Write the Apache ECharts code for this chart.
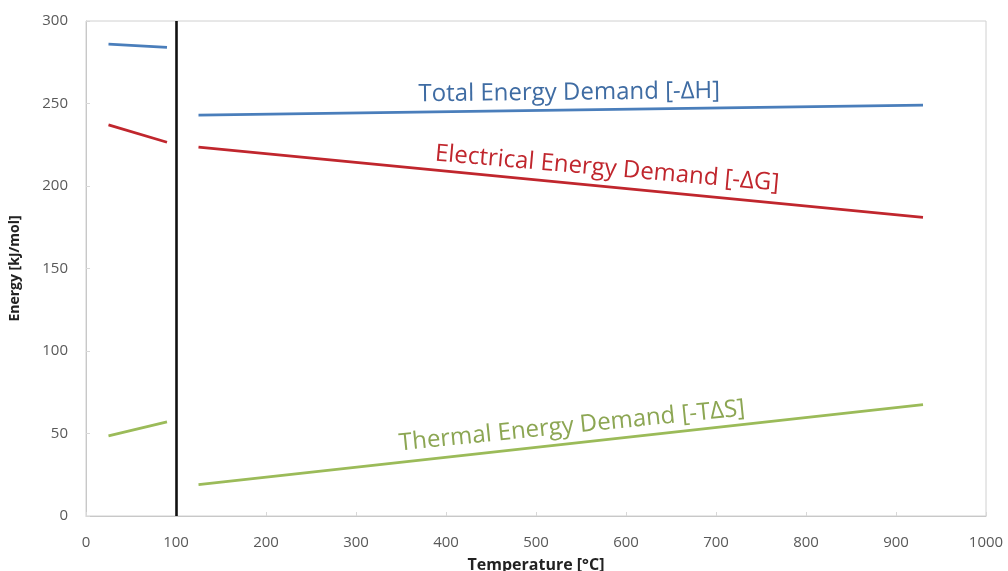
<!DOCTYPE html>
<html>
<head>
<meta charset="utf-8">
<script src="https://cdn.jsdelivr.net/npm/echarts@6/dist/echarts.min.js"></script>
<style>html,body{margin:0;padding:0;background:#fff}#c{width:1008px;height:571px}</style>
</head>
<body>
<div id="c"></div>
<script>
const tempLiquid = [25, 90];
const tempSteam = [125, 930];
const totalLiquid = [286, 284];
const totalSteam = [243, 249];
const electricalLiquid = [237, 226.5];
const electricalSteam = [223.5, 181];
const thermalLiquid = [48.5, 57];
const thermalSteam = [19, 67.5];
const phaseChangeTemp = 100;
const xTicks = [0, 100, 200, 300, 400, 500, 600, 700, 800, 900, 1000];
const yTicks = [0, 50, 100, 150, 200, 250, 300];
const labels = [
  {text: 'Total Energy Demand [-\u0394H]', x: 537, y: 256.5, rot: 0.6, color: '#3f6ca3'},
  {text: 'Electrical Energy Demand [-\u0394G]', x: 579, y: 210.5, rot: -5, color: '#c0262d'},
  {text: 'Thermal Energy Demand [-T\u0394S]', x: 540, y: 54.5, rot: 5.8, color: '#8ca653'}
];

const pairs = (xs, ys) => xs.map((x, i) => [x, ys[i]]);
const BLUE = '#4a7ebb', RED = '#c0262d', GREEN = '#9bbb59';
const lineSeries = (data, color) => ({
  type: 'line', data: data, symbol: 'none', smooth: false,
  lineStyle: {color: color, width: 2.8}, silent: true
});

const chart = echarts.init(document.getElementById('c'));
const axisLabelStyle = {color: '#595959', fontSize: 15, fontFamily: 'Open Sans'};
chart.setOption({
  animation: false,
  grid: {left: 86, right: 22, top: 21, bottom: 55, containLabel: false, outerBoundsMode: 'none',
         show: true, borderColor: '#d0d0d0', borderWidth: 1},
  xAxis: {
    type: 'value', min: xTicks[0], max: xTicks[xTicks.length - 1], interval: 100,
    name: 'Temperature [\u00b0C]', nameLocation: 'middle', nameGap: 41,
    nameTextStyle: {fontWeight: 'bold', fontSize: 16, color: '#222', fontFamily: 'Open Sans'},
    axisLine: {show: true, lineStyle: {color: '#c8c8c8'}},
    axisTick: {show: true, inside: true, length: 4, lineStyle: {color: '#d8d8d8'}},
    splitLine: {show: false},
    axisLabel: Object.assign({margin: 19, formatter: v => String(v)}, axisLabelStyle)
  },
  yAxis: {
    type: 'value', min: yTicks[0], max: yTicks[yTicks.length - 1], interval: 50,
    name: 'Energy [kJ/mol]', nameLocation: 'middle', nameGap: 64,
    nameTextStyle: {fontWeight: 'bold', fontSize: 14, color: '#222', fontFamily: 'Open Sans'},
    axisLine: {show: true, lineStyle: {color: '#c8c8c8'}},
    axisTick: {show: true, inside: true, length: 4, lineStyle: {color: '#d8d8d8'}},
    splitLine: {show: false},
    axisLabel: Object.assign({margin: 18, formatter: v => String(v)}, axisLabelStyle)
  },
  series: [
    Object.assign(lineSeries(pairs(tempLiquid, totalLiquid), BLUE), {
      markLine: {
        silent: true, symbol: 'none', label: {show: false},
        lineStyle: {color: '#111', width: 2.6, type: 'solid'},
        data: [{xAxis: phaseChangeTemp}]
      }
    }),
    lineSeries(pairs(tempSteam, totalSteam), BLUE),
    lineSeries(pairs(tempLiquid, electricalLiquid), RED),
    lineSeries(pairs(tempSteam, electricalSteam), RED),
    lineSeries(pairs(tempLiquid, thermalLiquid), GREEN),
    lineSeries(pairs(tempSteam, thermalSteam), GREEN)
  ]
});

const graphics = labels.map(l => {
  const p = chart.convertToPixel({gridIndex: 0}, [l.x, l.y]);
  return {
    type: 'text', x: p[0], y: p[1], rotation: l.rot * Math.PI / 180,
    style: {text: l.text, fill: l.color, font: '24px "Open Sans"', textAlign: 'center', textVerticalAlign: 'middle'}
  };
});
chart.setOption({graphic: graphics});
</script>
</body>
</html>
